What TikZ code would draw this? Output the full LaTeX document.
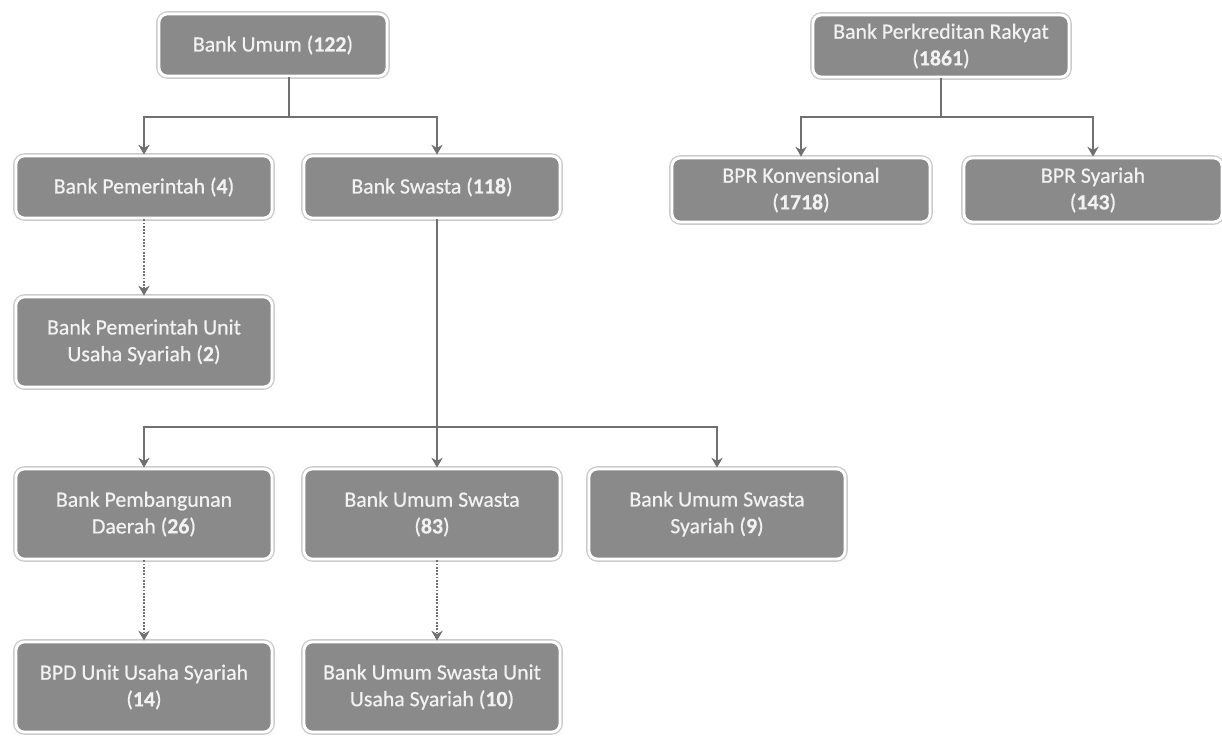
\documentclass[tikz,border=0pt]{standalone}
\usepackage{fontspec}
\setmainfont{Carlito}[FakeBold=0.5]
\usetikzlibrary{arrows.meta}
\definecolor{boxgray}{RGB}{138,138,138}
\definecolor{linegray}{RGB}{112,112,112}
\definecolor{textwhite}{RGB}{242,242,242}
\begin{document}
\begin{tikzpicture}[x=0.025cm,y=-0.025cm]
    % Styles for the boxes and the connectors
    \tikzset{
        bank/.style={rectangle, rounded corners=6pt, fill=boxgray, draw=white, line width=2pt,
            preaction={draw=black!20, line width=4pt}, text=textwhite, align=center,
            font=\fontsize{15.5}{19}\selectfont, minimum width=6.4cm, minimum height=1.55cm, inner sep=2pt},
        tall/.style={bank, minimum height=2.25cm},
        link/.style={draw=linegray, line width=1.3pt},
        arr/.style={link, -{Stealth[length=7pt, width=8pt]}},
        sub/.style={arr, densely dotted}
    }

    \useasboundingbox (0,0) rectangle (1222,738);

    % Bank Umum and its branches
    \node[bank, minimum width=5.7cm] (umum) at (273,45) {Bank Umum (\textbf{122})};
    \node[bank] (pemerintah) at (144,187) {Bank Pemerintah (\textbf{4})};
    \node[bank] (swasta) at (432,187) {Bank Swasta (\textbf{118})};
    \node[tall] (pemuus) at (144,342) {Bank Pemerintah Unit\\Usaha Syariah (\textbf{2})};
    \node[tall] (bpd) at (144,514) {Bank Pembangunan\\Daerah (\textbf{26})};
    \node[tall] (bus) at (432,514) {Bank Umum Swasta\\(\textbf{83})};
    \node[tall] (buss) at (717,514) {Bank Umum Swasta\\Syariah (\textbf{9})};
    \node[tall] (bpduus) at (144,687) {BPD Unit Usaha Syariah\\(\textbf{14})};
    \node[tall] (busuus) at (432,687) {Bank Umum Swasta Unit\\Usaha Syariah (\textbf{10})};

    % Bank Perkreditan Rakyat and its branches
    \node[bank] (bpr) at (941,46) {Bank Perkreditan Rakyat\\(\textbf{1861})};
    \node[bank, minimum width=6.45cm, minimum height=1.6cm] (konv) at (801,190) {BPR Konvensional\\(\textbf{1718})};
    \node[bank, minimum width=6.45cm, minimum height=1.6cm] (bprsy) at (1093,190) {BPR Syariah\\(\textbf{143})};

    % Junctions of the tree lines
    \coordinate (umumJ) at (289,117);
    \coordinate (bprJ) at (941,117);
    \coordinate (swastaJ) at (437,427);

    \draw[link] (umum.south -| umumJ) -- (umumJ);
    \draw[arr] (umumJ) -| (pemerintah.north);
    \draw[arr] (umumJ) -| (swasta.north -| swastaJ);

    \draw[link] (bpr.south) -- (bprJ);
    \draw[arr] (bprJ) -| (konv.north);
    \draw[arr] (bprJ) -| (bprsy.north);

    \draw[link] (swasta.south -| swastaJ) -- (swastaJ);
    \draw[arr] (swastaJ) -| (bpd.north);
    \draw[arr] (swastaJ) -- (bus.north -| swastaJ);
    \draw[arr] (swastaJ) -| (buss.north);

    % Dotted links to the Syariah units
    \draw[sub] (pemerintah.south) -- (pemuus.north);
    \draw[sub] (bpd.south) -- (bpduus.north);
    \draw[sub] (bus.south -| swastaJ) -- (busuus.north -| swastaJ);
\end{tikzpicture}
\end{document}
